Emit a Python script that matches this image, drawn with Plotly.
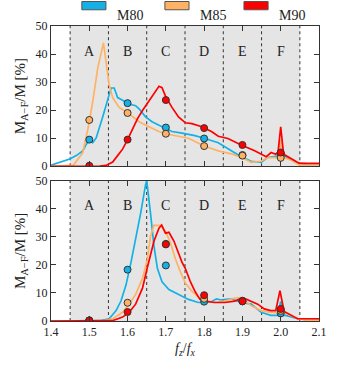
import plotly.graph_objects as go
from plotly.subplots import make_subplots

# region labels and boundaries in f_z/f_x
regions = ["A", "B", "C", "D", "E", "F"]
region_centers = [1.5, 1.6, 1.7, 1.8, 1.9, 2.0]
region_edges = [1.45, 1.55, 1.65, 1.75, 1.85, 1.95, 2.05]

# ---- top panel curves ----
top_m80_x = [1.40, 1.423, 1.449, 1.466, 1.483, 1.492, 1.501, 1.509, 1.518, 1.535, 1.548, 1.557,
             1.565, 1.574, 1.587, 1.604, 1.621, 1.630, 1.647, 1.664, 1.690, 1.716, 1.742, 1.776,
             1.802, 1.837, 1.871, 1.897, 1.923, 1.949, 1.966, 1.987, 1.993, 2.0, 2.007, 2.013,
             2.035, 2.048, 2.07, 2.1]
top_m80_y = [0.4, 1.5, 2.6, 3.8, 5.5, 7.8, 9.5, 8.4, 10.1, 17.6, 23.9, 27.9,
             27.9, 24.5, 23.5, 22.2, 21.6, 20.5, 17.6, 15.9, 14.1, 12.4, 11.8, 10.9,
             9.9, 8.4, 5.5, 3.4, 1.8, 1.4, 3.2, 3.4, 3.6, 9.0, 3.6, 3.4,
             2.0, 0.8, 0.3, 0.3]

top_m85_x = [1.40, 1.44, 1.458, 1.483, 1.496, 1.509, 1.522, 1.537, 1.544, 1.552, 1.561, 1.578,
             1.604, 1.630, 1.656, 1.682, 1.699, 1.733, 1.759, 1.800, 1.837, 1.871, 1.897, 1.923,
             1.949, 1.966, 1.987, 1.993, 2.0, 2.007, 2.013, 2.030, 2.048, 2.07, 2.1]
top_m85_y = [0.0, 0.1, 0.3, 4.9, 13.0, 23.0, 35.0, 44.0, 37.0, 29.0, 24.5, 21.0,
             18.7, 15.9, 14.1, 12.4, 11.6, 10.7, 10.0, 7.2, 5.5, 4.4, 3.2, 1.4,
             1.8, 3.2, 2.9, 3.0, 9.5, 3.0, 2.9, 2.0, 0.5, 0.3, 0.3]

top_m90_x = [1.40, 1.50, 1.527, 1.544, 1.561, 1.574, 1.587, 1.600, 1.613, 1.626, 1.639, 1.651,
             1.669, 1.682, 1.690, 1.699, 1.716, 1.733, 1.751, 1.768, 1.794, 1.819, 1.837, 1.862,
             1.897, 1.932, 1.962, 1.975, 1.987, 1.993, 2.0, 2.007, 2.011, 2.030, 2.048, 2.07, 2.1]
top_m90_y = [0.0, 0.0, 0.1, 0.3, 1.5, 3.8, 6.1, 9.5, 13.0, 17.0, 19.9, 22.4,
             26.2, 28.5, 28.0, 25.0, 21.0, 17.6, 15.5, 15.2, 14.1, 12.4, 10.7, 9.9,
             7.6, 5.5, 3.4, 4.9, 4.3, 5.0, 14.1, 5.0, 4.0, 2.6, 1.1, 1.0, 1.0]

top_pts_m80 = [9.5, 22.5, 13.8, 9.9, 4.0, 4.0]
top_pts_m85 = [16.5, 19.0, 11.6, 7.2, 3.8, 3.0]
top_pts_m90 = [0.2, 9.5, 23.6, 13.6, 7.6, 4.9]

# ---- bottom panel curves ----
bot_m80_x = [1.40, 1.50, 1.527, 1.552, 1.570, 1.583, 1.596, 1.609, 1.621, 1.634, 1.647, 1.650,
             1.660, 1.669, 1.678, 1.690, 1.708, 1.733, 1.759, 1.785, 1.802, 1.819, 1.832, 1.845,
             1.871, 1.897, 1.923, 1.949, 1.974, 1.992, 2.0, 2.008, 2.013, 2.044, 2.07, 2.1]
bot_m80_y = [0.0, 0.0, 0.1, 0.8, 3.7, 7.2, 12.9, 21.0, 29.0, 38.3, 48.6, 50.0,
             38.3, 26.7, 18.7, 14.0, 11.2, 9.5, 7.7, 6.6, 6.6, 6.9, 7.9, 7.5,
             7.9, 6.6, 6.0, 3.1, 2.0, 2.0, 7.0, 2.0, 2.0, 0.8, 0.3, 0.3]

bot_m85_x = [1.40, 1.535, 1.561, 1.587, 1.604, 1.621, 1.639, 1.651, 1.660, 1.669, 1.686, 1.699,
             1.712, 1.725, 1.738, 1.751, 1.768, 1.785, 1.802, 1.828, 1.854, 1.880, 1.897, 1.923,
             1.949, 1.974, 1.992, 2.0, 2.008, 2.018, 2.044, 2.07, 2.1]
bot_m85_y = [0.0, 0.1, 0.8, 3.1, 6.0, 9.5, 15.2, 21.6, 30.2, 34.2, 34.0, 31.9,
             27.9, 22.1, 17.5, 13.5, 10.6, 8.5, 7.1, 6.6, 7.1, 8.2, 8.3, 5.4,
             3.7, 3.1, 3.0, 5.0, 3.0, 2.5, 0.8, 0.3, 0.3]

bot_m90_x = [1.40, 1.56, 1.587, 1.604, 1.621, 1.639, 1.651, 1.669, 1.682, 1.689, 1.699, 1.708,
             1.721, 1.733, 1.742, 1.751, 1.764, 1.776, 1.789, 1.802, 1.828, 1.854, 1.880, 1.901,
             1.918, 1.940, 1.957, 1.974, 1.987, 1.998, 2.009, 2.027, 2.044, 2.07, 2.1]
bot_m90_y = [0.0, 0.1, 1.4, 3.1, 6.0, 11.7, 18.7, 28.5, 33.1, 34.2, 31.3, 31.6,
             28.5, 23.9, 21.0, 18.7, 14.0, 10.6, 7.7, 7.1, 6.6, 6.6, 7.1, 8.3,
             7.4, 6.0, 4.3, 3.7, 3.7, 10.8, 3.4, 2.0, 0.8, 0.8, 0.8]

bot_pts_m80 = [0.2, 18.3, 19.8, 6.9, 7.0, 2.7]
bot_pts_m85 = [0.2, 6.5, 27.5, 7.9, 7.2, 3.6]
bot_pts_m90 = [0.2, 3.2, 27.3, 9.2, 7.0, 4.3]

names = ["M80", "M85", "M90"]
colors = ["#14b1e7", "#ffb264", "#ff0000"]

FONT = "Liberation Serif"
TXT = "#222222"

fig = make_subplots(rows=2, cols=1, shared_xaxes=True, vertical_spacing=0.049)

panels = [
    (1, [(top_m80_x, top_m80_y), (top_m85_x, top_m85_y), (top_m90_x, top_m90_y)],
     [top_pts_m80, top_pts_m85, top_pts_m90]),
    (2, [(bot_m80_x, bot_m80_y), (bot_m85_x, bot_m85_y), (bot_m90_x, bot_m90_y)],
     [bot_pts_m80, bot_pts_m85, bot_pts_m90]),
]

for row, curves, pts in panels:
    for (cx, cy), name, color in zip(curves, names, colors):
        fig.add_trace(go.Scatter(x=cx, y=cy, mode="lines", name=name, showlegend=False,
                                 line=dict(color=color, width=1.7)), row=row, col=1)
    for p, color in zip(pts, colors):
        fig.add_trace(go.Scatter(x=region_centers, y=p, mode="markers", showlegend=False,
                                 marker=dict(color=color, size=7,
                                             line=dict(color="#333333", width=1))),
                      row=row, col=1)

# shaded band, dotted separators and region letters (added after the traces)
for row in (1, 2):
    fig.add_vrect(x0=region_edges[0], x1=region_edges[-1], fillcolor="#e5e5e5", opacity=1,
                  line_width=0, layer="below", row=row, col=1)
    for e in region_edges:
        fig.add_vline(x=e, line=dict(color="#333333", width=1, dash="dot"),
                      layer="below", row=row, col=1)
    for lab, c in zip(regions, region_centers):
        fig.add_annotation(x=c, y=41, text=lab, showarrow=False,
                           font=dict(size=14, color=TXT, family=FONT), row=row, col=1)

# legend drawn as swatches above the plot
legend_x = [0.115, 0.425, 0.72]
for lx, name, color in zip(legend_x, names, colors):
    fig.add_shape(type="rect", xref="paper", yref="paper", x0=lx, x1=lx + 0.09,
                  y0=1.055, y1=1.083, fillcolor=color, line=dict(color="#555555", width=1))
    fig.add_annotation(xref="paper", yref="paper", x=lx + 0.125, y=1.069, text=name,
                       showarrow=False, xanchor="left",
                       font=dict(size=14, color=TXT, family=FONT))

axis_style = dict(showline=True, linecolor="#333333", linewidth=1, mirror="ticks",
                  ticks="inside", ticklen=5, tickcolor="#333333", showgrid=False,
                  zeroline=False, tickfont=dict(size=12, family=FONT, color=TXT))

fig.update_xaxes(range=[1.4, 2.1], dtick=0.1, tickformat=".1f", **axis_style)
fig.update_xaxes(title=dict(text="<i>f<sub>z</sub></i>/<i>f<sub>x</sub></i>",
                            font=dict(size=14, family=FONT, color=TXT), standoff=4),
                 row=2, col=1)
fig.update_yaxes(range=[0, 50], dtick=10, **axis_style)
fig.update_yaxes(title=dict(text="M<sub>A−F</sub>/M [%]",
                            font=dict(size=15, family=FONT, color=TXT), standoff=6))

fig.update_layout(
    width=339, height=365,
    margin=dict(l=51, r=17, t=26, b=34),
    plot_bgcolor="white", paper_bgcolor="white",
    showlegend=False,
    font=dict(family=FONT),
)

# drop the default page margin so the figure sits at the window's corner
fig.write_html("out.html", config={"displayModeBar": False},
               post_script="document.body.style.margin='0';")
